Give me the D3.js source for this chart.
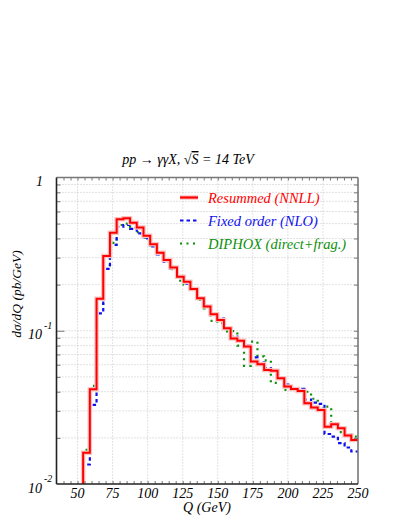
<!DOCTYPE html>
<html>
<head>
<meta charset="utf-8">
<script src="https://cdn.jsdelivr.net/npm/d3@7"></script>
<style>
body{margin:0;background:#fff;}
text{font-family:'Liberation Serif','Times New Roman',serif;font-style:italic;}
</style>
</head>
<body>
<div id="canvas"></div>
<script>
//    data : 41 equal Q bins from qLow to qHigh (GeV), dsigma/dQ in pb/GeV
var qLow = 54, qHigh = 250, nBins = 41;

var resummed = [0.0160,0.0415,0.162,0.307,0.436,0.534,0.542,0.507,0.472,0.417,
    0.367,0.323,0.290,0.259,0.225,0.209,0.187,0.163,0.144,0.128,
    0.1175,0.104,0.089,0.086,0.079,0.063,0.0605,0.0554,0.0548,0.049,
    0.0432,0.0417,0.0404,0.0336,0.0316,0.0304,0.0236,0.0245,0.0231,0.0207,0.0194];

var fixedOrder = [0.0134,0.0328,0.130,0.253,0.363,0.478,0.490,0.462,0.432,0.400,
    0.355,0.315,0.282,0.254,0.222,0.203,0.185,0.162,0.143,0.127,
    0.120,0.103,0.0915,0.086,0.080,0.067,0.062,0.057,0.055,0.0497,
    0.0445,0.0420,0.0418,0.0355,0.0340,0.0333,0.0212,0.0204,0.0185,0.0173,0.0163];

var diphox = [0.0167,0.0437,0.150,0.268,0.375,0.490,0.500,0.470,0.440,0.405,
    0.360,0.318,0.285,0.252,0.212,0.200,0.189,0.159,0.140,0.116,
    0.112,0.099,0.0995,0.080,0.059,0.085,0.068,0.064,0.0457,0.049,
    0.0411,0.0418,0.0415,0.0400,0.0360,0.0310,0.0320,0.0245,0.0218,0.0211,0.0204];

var labels = ['Resummed (NNLL)','Fixed order (NLO)','DIPHOX (direct+frag.)'];
var colors = ['#ff0000','#1010ee','#0b8f0b'];
var xTicks = [50,75,100,125,150,175,200,225,250];
var yDecades = [0.01,0.1,1];

//    defination
var pL = 56.5, pR = 358, pT = 177.5, pB = 484;

var x = d3.scaleLinear().domain([35,250]).range([pL,pR]);
var y = d3.scaleLog().domain([0.01,1]).range([pB,pT]);

var edges = d3.range(nBins+1).map(function(i){ return qLow + i*(qHigh-qLow)/nBins; });

var yGrid = [];
[0.01,0.1].forEach(function(d){
    for(var k=1;k<10;k++){ yGrid.push(d*k); }
});
var xMinor = d3.range(40,250,5);

var svg = d3.select('#canvas')
    .append('svg')
    .attr('width',407)
    .attr('height',527)

svg.append('defs').append('clipPath')
    .attr('id','plot')
    .append('rect')
    .attr('x',pL).attr('y',pT)
    .attr('width',pR-pL).attr('height',pB-pT)

//    grid
svg.append('g').selectAll('line')
    .data(xTicks.slice(0,-1))
    .enter().append('line')
    .attr('x1',function(d){ return x(d); })
    .attr('x2',function(d){ return x(d); })
    .attr('y1',pT).attr('y2',pB)
    .attr('stroke','#c4c4c4')
    .attr('stroke-dasharray','1,2')
svg.append('g').selectAll('line')
    .data(yGrid.slice(1))
    .enter().append('line')
    .attr('x1',pL).attr('x2',pR)
    .attr('y1',function(d){ return y(d); })
    .attr('y2',function(d){ return y(d); })
    .attr('stroke','#c4c4c4')
    .attr('stroke-dasharray','1,2')

//    histograms
function steps(vals){
    var pts = [[edges[0],0.004]];
    vals.forEach(function(v,i){ pts.push([edges[i],v]); });
    pts.push([edges[nBins],vals[nBins-1]]);
    return pts;
}
var line = d3.line()
    .curve(d3.curveStepAfter)
    .x(function(d){ return x(d[0]); })
    .y(function(d){ return y(d[1]); })

var hist = svg.append('g').attr('clip-path','url(#plot)')
hist.append('path')
    .attr('d',line(steps(diphox)))
    .attr('fill','none')
    .attr('stroke',colors[2])
    .attr('stroke-width',2.2)
    .attr('stroke-dasharray','2,4.5')
hist.append('path')
    .attr('d',line(steps(fixedOrder)))
    .attr('fill','none')
    .attr('stroke',colors[1])
    .attr('stroke-width',2.2)
    .attr('stroke-dasharray','3.5,3')
hist.append('path')
    .attr('d',line(steps(resummed)))
    .attr('fill','none')
    .attr('stroke','#fac4c4')
    .attr('stroke-width',4.5)
hist.append('path')
    .attr('d',line(steps(resummed)))
    .attr('fill','none')
    .attr('stroke',colors[0])
    .attr('stroke-width',2)

//    axes ticks
var gx = svg.append('g').attr('transform','translate(0,'+pB+')')
gx.call(d3.axisBottom(x).tickValues(xMinor).tickSize(-3).tickFormat(''))
var gxt = svg.append('g').attr('transform','translate(0,'+pT+')')
gxt.call(d3.axisTop(x).tickValues(xMinor).tickSize(-3).tickFormat(''))
var gy = svg.append('g').attr('transform','translate('+pL+',0)')
gy.call(d3.axisLeft(y).tickValues(yGrid.slice(1)).tickSize(-4).tickFormat(''))
gy.selectAll('.tick line')
    .filter(function(d){ return Math.abs(d-0.1) < 1e-9; })
    .attr('x2',8)
var gyr = svg.append('g').attr('transform','translate('+pR+',0)')
gyr.call(d3.axisRight(y).tickValues(yGrid.slice(1)).tickSize(-4).tickFormat(''))
svg.selectAll('.domain').remove()
svg.selectAll('.tick line').attr('stroke','#555').attr('stroke-width',0.8)

//    frame
svg.append('line').attr('x1',pL).attr('x2',pR).attr('y1',pT).attr('y2',pT).attr('stroke','#777').attr('stroke-width',1.3)
svg.append('line').attr('x1',pR).attr('x2',pR).attr('y1',pT).attr('y2',pB).attr('stroke','#777').attr('stroke-width',1.6)
svg.append('line').attr('x1',pL).attr('x2',pR).attr('y1',pB).attr('y2',pB).attr('stroke','#222').attr('stroke-width',1.6)
svg.append('line').attr('x1',pL).attr('x2',pL).attr('y1',pT).attr('y2',pB).attr('stroke','#222').attr('stroke-width',1.6)

//    tick labels
svg.append('g').selectAll('text')
    .data(xTicks)
    .enter().append('text')
    .attr('x',function(d){ return x(d); })
    .attr('y',pB+14)
    .attr('text-anchor','middle')
    .style('font-size','14px')
    .text(function(d){ return d; })

var yl = svg.append('g').selectAll('g')
    .data(yDecades)
    .enter().append('g')
    .attr('transform',function(d){ return 'translate(0,'+y(d)+')'; })
yl.append('text')
    .attr('x',function(d){ return d==1 ? 43 : 42; })
    .attr('y',8.5)
    .attr('text-anchor','end')
    .style('font-size','14px')
    .text(function(d){ return d==1 ? '1' : '10'; })
yl.filter(function(d){ return d!=1; }).append('text')
    .attr('x',44)
    .attr('y',-2)
    .style('font-size','10px')
    .text(function(d){ return Math.round(Math.log10(d)); })

//    axis titles
svg.append('text')
    .attr('x',207)
    .attr('y',512)
    .attr('text-anchor','middle')
    .style('font-size','14px')
    .text('Q (GeV)')
svg.append('text')
    .attr('transform','translate(21,294) rotate(-90)')
    .attr('text-anchor','middle')
    .style('font-size','13.5px')
    .text('dσ/dQ (pb/GeV)')

var title = svg.append('text')
    .attr('x',188)
    .attr('y',164)
    .attr('text-anchor','middle')
    .style('font-size','14px')
title.append('tspan').text('pp → γγX, √')
title.append('tspan').style('text-decoration','overline').text('S')
title.append('tspan').text(' = 14 TeV')

//    legend
var dashes = [null,'3.5,3','2,4.5'];
var leg = svg.append('g').selectAll('g')
    .data(labels)
    .enter().append('g')
    .attr('transform',function(d,i){ return 'translate(0,'+(197.5+i*23)+')'; })
leg.filter(function(d,i){ return i==0; }).append('line')
    .attr('x1',180).attr('x2',198)
    .attr('stroke','#fac4c4').attr('stroke-width',4.5)
leg.append('line')
    .attr('x1',180).attr('x2',198)
    .attr('stroke',function(d,i){ return colors[i]; })
    .attr('stroke-width',2.2)
    .attr('stroke-dasharray',function(d,i){ return dashes[i]; })
leg.append('text')
    .attr('x',208)
    .attr('y',5)
    .attr('fill',function(d,i){ return colors[i]; })
    .style('font-size','14.5px')
    .text(function(d){ return d; })
</script>
</body>
</html>
